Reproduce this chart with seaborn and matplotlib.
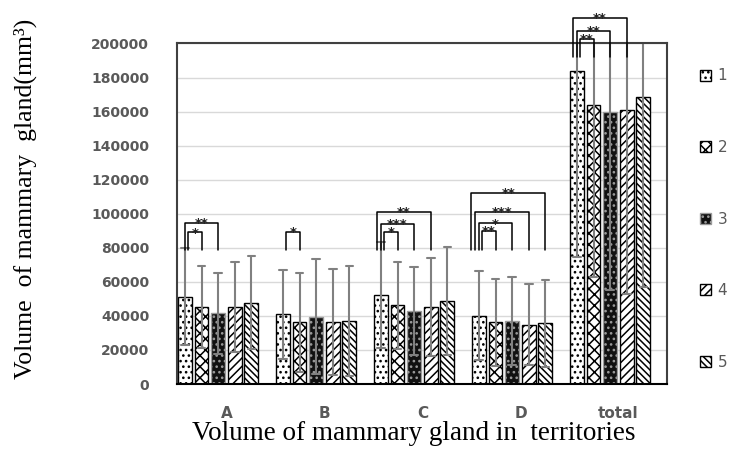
import numpy as np
import pandas as pd
import matplotlib
matplotlib.use("Agg")
import matplotlib.pyplot as plt
import seaborn as sns

# ── Data ─────────────────────────────────────────────────────────────────────
categories = ["A", "B", "C", "D", "total"]
groups = ["1", "2", "3", "4", "5"]

mean_1 = [51200, 40900, 52200, 40100, 183800]
mean_2 = [45300, 36200, 46200, 36200, 163800]
mean_3 = [41500, 39500, 42800, 36900, 159500]
mean_4 = [45300, 36200, 45300, 34800, 161100]
mean_5 = [47700, 37100, 48900, 35600, 168500]

sd_1 = [28400, 26000, 31300, 26200, 109100]
sd_2 = [24100, 29100, 25500, 25600, 100900]
sd_3 = [23800, 33800, 26000, 25700, 104400]
sd_4 = [26400, 31200, 28800, 23700, 108300]
sd_5 = [27200, 32500, 31600, 25400, 111800]

# significance brackets: category, first bar, second bar, level, base, stars
brk_cat = ["A", "A", "B", "C", "C", "C", "D", "D", "D", "D", "total", "total", "total"]
brk_from = ["1"] * 13
brk_to = ["2", "3", "2", "2", "3", "4", "2", "3", "4", "5", "2", "3", "4"]
brk_y = [89000, 94600, 89300, 89300, 93800, 101100, 89900, 94300, 101100, 112400,
         202800, 207200, 215100]
brk_base = [78600] * 10 + [192000] * 3
brk_label = ["*", "**", "*", "*", "***", "**", "**", "*", "***", "**", "**", "**", "**"]

means = [mean_1, mean_2, mean_3, mean_4, mean_5]
sds = [sd_1, sd_2, sd_3, sd_4, sd_5]

# two rows per bar (mean - sd, mean + sd) so seaborn can draw the sd range
rows = []
for g, m_list, s_list in zip(groups, means, sds):
    for cat, m, s in zip(categories, m_list, s_list):
        rows.append({"territory": cat, "group": g, "volume": m - s})
        rows.append({"territory": cat, "group": g, "volume": m + s})
df = pd.DataFrame(rows)

# ── Style ────────────────────────────────────────────────────────────────────
sns.set_style("white")
plt.rcParams["font.family"] = ["DejaVu Sans"]
plt.rcParams["hatch.linewidth"] = 1.1

GRAY_TXT = "#595959"
fills = ["white", "white", "#111111", "white", "white"]
edges = ["black", "black", "#9a9a9a", "black", "black"]
hatches = ["...", "xxx", "...", "////", "\\\\\\\\\\"]

fig = plt.figure(figsize=(7.32, 4.69), dpi=100)
ax = fig.add_axes([177 / 732, 1 - 384 / 469, 490 / 732, 340.5 / 469])

sns.barplot(data=df, x="territory", y="volume", hue="group",
            order=categories, hue_order=groups,
            palette={g: "white" for g in groups},
            width=0.85, gap=0.16,
            errorbar=lambda v: (v.min(), v.max()),
            capsize=0.4,
            err_kws={"color": "#808080", "linewidth": 1.5},
            edgecolor="black", linewidth=1.0,
            legend=False, ax=ax)

for cont, fc, ec, h in zip(ax.containers, fills, edges, hatches):
    for p in cont.patches:
        p.set_facecolor(fc)
        p.set_edgecolor(ec)
        p.set_hatch(h)

ax.set_ylim(0, 200000)
ax.set_yticks(np.arange(0, 200001, 20000))
ax.set_xlim(-0.42, 4.58)
ax.set_xticks(np.arange(len(categories)) + 0.085)
ax.set_xticklabels(categories)

ax.yaxis.grid(True, color="#d9d9d9", linewidth=1.0)
ax.set_axisbelow(True)
for side in ["left", "top", "right", "bottom"]:
    ax.spines[side].set_visible(True)
    ax.spines[side].set_color("#404040")
    ax.spines[side].set_linewidth(1.5)
ax.spines["bottom"].set_color("black")

ax.tick_params(axis="y", length=0, pad=20, labelsize=10, labelcolor=GRAY_TXT)
ax.tick_params(axis="x", length=0, pad=16, labelsize=11, labelcolor=GRAY_TXT)
for lab in ax.get_xticklabels() + ax.get_yticklabels():
    lab.set_fontweight("bold")

ax.set_xlabel("Volume of mammary gland in  territories",
              fontsize=19.5, family="Liberation Serif", color="black")
ax.set_ylabel("Volume  of mammary  gland(mm³)",
              fontsize=18.5, family="Liberation Serif", color="black")
ax.xaxis.set_label_coords(0.484, -0.108)
ax.yaxis.set_label_coords(-0.285, 0.545)

# ── Significance brackets ────────────────────────────────────────────────────
def bar_center(cat, g):
    c = ax.containers[groups.index(g)].patches[categories.index(cat)]
    return c.get_x() + c.get_width() / 2

nest = {}
for cat, g1, g2, y, base, lab in zip(brk_cat, brk_from, brk_to, brk_y, brk_base, brk_label):
    k = nest.get(cat, 0)
    nest[cat] = k + 1
    x1 = bar_center(cat, g1) + 0.035 - 0.037 * k
    x2 = bar_center(cat, g2)
    ax.plot([x1, x1, x2, x2], [base, y, y, base], color="black",
            linewidth=1.1, clip_on=False, zorder=5)
    ax.annotate(lab, xy=((x1 + x2) / 2, y), xytext=(0, -3),
                textcoords="offset points", ha="center", va="baseline",
                fontsize=9.5, fontweight="bold", color="#222222",
                annotation_clip=False, zorder=6)

# ── Legend ───────────────────────────────────────────────────────────────────
handles = [cont.patches[0] for cont in ax.containers]
leg = fig.legend(handles, groups, loc="center left",
                 bbox_to_anchor=(700 / 732, 1 - 219 / 469),
                 frameon=False, fontsize=11, labelcolor=GRAY_TXT,
                 handlelength=0.75, handleheight=0.75, handletextpad=0.4,
                 labelspacing=3.7, borderpad=0, borderaxespad=0)

fig.savefig("out.png", dpi=100)
